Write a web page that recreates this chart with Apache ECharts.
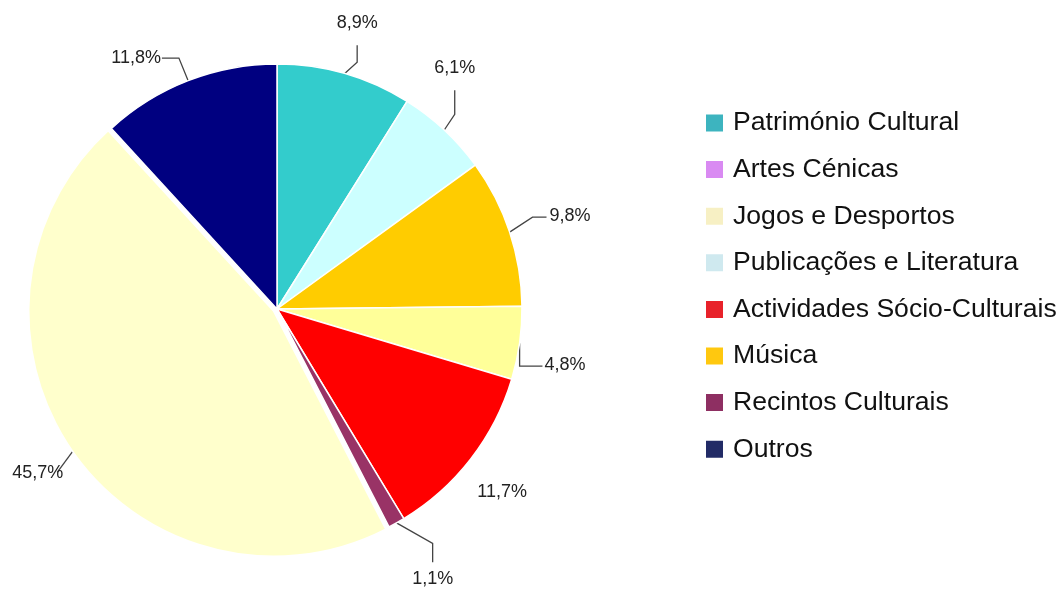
<!DOCTYPE html>
<html>
<head>
<meta charset="utf-8">
<style>
  html, body { margin: 0; padding: 0; background: #fff; }
  #chart { width: 1060px; height: 590px; }
</style>
<script src="https://cdn.jsdelivr.net/npm/echarts@6/dist/echarts.min.js"></script>
</head>
<body>
<div id="chart"></div>
<script>
// Slices in clockwise order from 12 o'clock
const categories = ['Património Cultural', 'Publicações e Literatura', 'Música', 'Artes Cénicas',
                    'Actividades Sócio-Culturais', 'Recintos Culturais', 'Jogos e Desportos', 'Outros'];
const values = [8.9, 6.1, 9.8, 4.8, 11.7, 1.1, 45.7, 11.8];
const sliceColors = ['#33CCCC', '#CCFFFF', '#FFCC00', '#FFFF99', '#FF0000', '#993366', '#FFFFCC', '#000080'];

// Legend order and its swatch colours
const legendNames = ['Património Cultural', 'Artes Cénicas', 'Jogos e Desportos', 'Publicações e Literatura',
                     'Actividades Sócio-Culturais', 'Música', 'Recintos Culturais', 'Outros'];
const legendColors = ['#3DB4BF', '#D98AF2', '#F7F0C4', '#CFE9EF', '#E8222A', '#FFC80F', '#8E2F62', '#222B66'];

// label line lengths per slice [length, length2], label nudges [dx, dy], leader styles
const lineLen = [[18, 6], [16, 6], [22, 14], [14, 12], [26, 4], [28, 10], [14, 6], [20, 10]];
const hideLine = [false, false, false, false, true, false, false, false];
const labelNudge = [[-24, -33], [-32, -50], [0, -9], [-6, 20], [-23, 17], [-13, 32], [13, 14], [-5, -4]];
// [style, gap, segment]
const leader = [['up', 13, 17], ['up', 13, 24], ['left', 3, 14], ['leftV', 2, 0], ['none', 0, 0],
                ['down', 8, 19], ['direct', 6, 0], ['right', 1, 17]];

const chart = echarts.init(document.getElementById('chart'));
const fmt = v => String(v).replace('.', ',') + '%';

function layoutLabel(p) {
  const i = p.dataIndex;
  const dx = labelNudge[i][0], dy = labelNudge[i][1];
  const pts = p.labelLinePoints;
  const st = leader[i];
  if (!pts || st[0] === 'none') return { dx: dx, dy: dy };
  const r = p.labelRect;
  const x0 = r.x + dx, y0 = r.y + dy, x1 = x0 + r.width, y1 = y0 + r.height;
  const cx = (x0 + x1) / 2, cy = (y0 + y1) / 2;
  const s = pts[0];
  let bend, end;
  switch (st[0]) {
    case 'up':    end = [cx, y1 + st[1]]; bend = [cx, end[1] + st[2]]; break;
    case 'down':  end = [cx, y0 - st[1]]; bend = [cx, end[1] - st[2]]; break;
    case 'left':  end = [x0 - st[1], cy + 1]; bend = [end[0] - st[2], cy + 1]; break;
    case 'leftV': end = [x0 - st[1], cy + 1]; bend = [s[0], cy + 1]; break;
    case 'right': end = [x1 + st[1], cy]; bend = [end[0] + st[2], cy]; break;
    default:      end = [x1 - st[1], cy - 1]; bend = [(s[0] + end[0]) / 2, (s[1] + end[1]) / 2];
  }
  return { dx: dx, dy: dy, labelLinePoints: [s, bend, end] };
}

chart.setOption({
  animation: false,
  backgroundColor: '#ffffff',
  legend: {
    orient: 'vertical',
    left: 699,
    top: 102,
    itemWidth: 19,
    itemHeight: 19,
    itemGap: 14.6,
    icon: 'rect',
    selectedMode: false,
    textStyle: {
      fontFamily: 'Liberation Sans, Arial, sans-serif',
      fontSize: 26.6,
      lineHeight: 32,
      color: '#111',
      padding: [0, 0, 0, 4]
    },
    data: legendNames.map((n, i) => ({ name: n, itemStyle: { color: legendColors[i] } }))
  },
  series: [{
    type: 'pie',
    center: [277, 309],
    radius: 245,
    startAngle: 90,
    clockwise: true,
    selectedMode: 'multiple',
    selectedOffset: 4,
    avoidLabelOverlap: false,
    itemStyle: { borderColor: '#ffffff', borderWidth: 1.5 },
    emphasis: { disabled: true },
    label: {
      show: true,
      position: 'outside',
      fontFamily: 'Liberation Sans, Arial, sans-serif',
      fontSize: 18,
      color: '#222',
      formatter: p => fmt(p.value)
    },
    labelLine: { show: true, lineStyle: { color: '#444', width: 1.3 } },
    labelLayout: layoutLabel,
    data: categories.map((c, i) => ({
      name: c,
      value: values[i],
      selected: c === 'Jogos e Desportos',
      itemStyle: { color: sliceColors[i] },
      labelLine: { show: !hideLine[i], length: lineLen[i][0], length2: lineLen[i][1] }
    }))
  }]
});
</script>
</body>
</html>
